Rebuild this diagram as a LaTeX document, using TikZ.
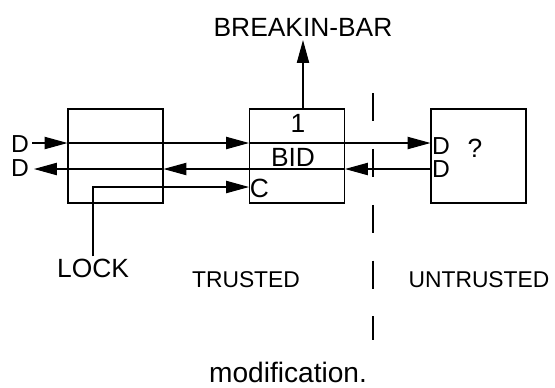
\documentclass[tikz,border=0pt]{standalone}
\usepackage{fontspec}
\setmainfont{Liberation Sans}
\usetikzlibrary{arrows.meta}

\begin{document}
\begin{tikzpicture}[x=0.02cm, y=-0.02cm, line width=0.6pt,
    blk/.style={draw, minimum width=1.9cm, minimum height=1.88cm, inner sep=0pt},
    lbl/.style={inner sep=0pt, font=\fontsize{15}{18}\selectfont},
    port/.style={inner sep=0pt, font=\fontsize{14}{16}\selectfont},
    zone/.style={inner sep=0pt, font=\fontsize{13}{16}\selectfont},
    arr/.style={-{Triangle[length=13pt, width=7pt]}}]
  \useasboundingbox (0,0) rectangle (555,387);
  % the three blocks
  \node[blk] (lbox) at (115.5,156) {};
  \node[blk] (bid) at (297,156) {};
  \node[blk] (rbox) at (478.5,156) {};
  % texts
  \node[lbl] (one) at (298,123) {1};
  \node[lbl] (bidtxt) at (293,157) {BID};
  \node[lbl] (ctxt) at (259.5,188) {C};
  \node[port] (dinl) at (20,144) {D};
  \node[port] (doutl) at (20,168) {D};
  \node[port] (dinr) at (441,146) {D};
  \node[port] (doutr) at (441,169) {D};
  \node[lbl] (qm) at (475,148) {?};
  \node[lbl, inner sep=2pt] (brk) at (303,27) {BREAKIN-BAR};
  \node[lbl, inner sep=1pt] (lock) at (93,268) {LOCK};
  \node[zone] (tr) at (246,280) {TRUSTED};
  \node[zone] (untr) at (479,280) {UNTRUSTED};
  \node[lbl, font=\fontsize{16}{19}\selectfont] (cap) at (288,372) {modification.};
  % end points
  \coordinate (din) at (32,143);
  \coordinate (dout) at (34,169);
  \coordinate (lk) at (93,187);
  \coordinate (dtop) at (373,93);
  \coordinate (dbot) at (373,340);
  % data in
  \draw[arr] (din) -- (lbox.west |- din);
  \draw[arr] (lbox.west |- din) -- (bid.west |- din);
  \draw[arr] (bid.west |- din) -- (rbox.west |- din);
  % data out
  \draw[arr] (rbox.west |- dout) -- (bid.east |- dout);
  \draw[arr] (bid.east |- dout) -- (lbox.east |- dout);
  \draw[arr] (lbox.east |- dout) -- (dout);
  % lock and breakin-bar
  \draw[arr] (lock.north) |- (bid.west |- lk);
  \draw[arr] (bid.north -| brk.south) -- (brk.south);
  % trust boundary
  \draw[dash pattern=on 15.9pt off 15.9pt] (dtop) -- (dbot);
\end{tikzpicture}
\end{document}
